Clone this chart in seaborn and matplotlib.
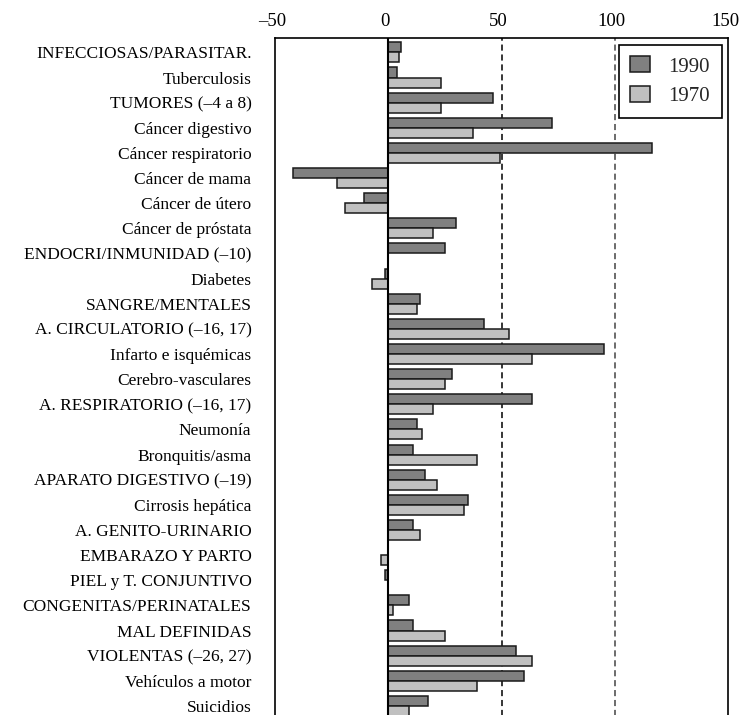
import matplotlib
matplotlib.use("Agg")
import matplotlib.pyplot as plt
import matplotlib.transforms as mtransforms
import seaborn as sns
import pandas as pd

categories = [
    "INFECCIOSAS/PARASITAR.", "Tuberculosis", "TUMORES (–4 a 8)", "Cáncer digestivo",
    "Cáncer respiratorio", "Cáncer de mama", "Cáncer de útero", "Cáncer de próstata",
    "ENDOCRI/INMUNIDAD (–10)", "Diabetes", "SANGRE/MENTALES", "A. CIRCULATORIO (–16, 17)",
    "Infarto e isquémicas", "Cerebro-vasculares", "A. RESPIRATORIO (–16, 17)", "Neumonía",
    "Bronquitis/asma", "APARATO DIGESTIVO (–19)", "Cirrosis hepática", "A. GENITO-URINARIO",
    "EMBARAZO Y PARTO", "PIEL y T. CONJUNTIVO", "CONGENITAS/PERINATALES", "MAL DEFINIDAS",
    "VIOLENTAS (–26, 27)", "Vehículos a motor", "Suicidios",
]
values_1990 = [5.5, 3.8, 46.1, 72.4, 116.4, -42.2, -10.5, 29.9, 24.9, -1.5, 14.2, 42.4,
               95.3, 28.3, 63.5, 12.5, 10.8, 16.1, 35.3, 10.8, 0.0, -1.5, 9.0, 10.8,
               56.5, 60.0, 17.7]
values_1970 = [4.7, 23.1, 23.1, 37.2, 49.4, -22.8, -19.2, 19.6, 0.0, -7.0, 12.5, 53.1,
               63.5, 24.9, 19.6, 15.0, 39.0, 21.4, 33.6, 14.2, -3.3, 0.0, 1.9, 24.9,
               63.5, 39.0, 9.0]
series = ["1990", "1970"]
x_ticks = [-50, 0, 50, 100, 150]
x_tick_labels = ["–50", "0", "50", "100", "150"]

df = pd.DataFrame({
    "cat": categories * 2,
    "val": values_1990 + values_1970,
    "serie": [series[0]] * len(categories) + [series[1]] * len(categories),
})

sns.set_theme(style="white")
plt.rcParams["font.family"] = ["Liberation Serif", "DejaVu Serif"]

fig = plt.figure(figsize=(7.43, 7.15), dpi=100)
ax = fig.add_axes([275 / 743, -0.0084, (728 - 275) / 743, 0.9552])

sns.barplot(data=df, y="cat", x="val", hue="serie", hue_order=series, order=categories,
            orient="h", palette=["#808080", "#c0c0c0"], width=0.8, dodge=True,
            edgecolor="#1a1a1a", linewidth=1.1, saturation=1, ax=ax, legend=True)

ax.set_xlim(-50, 150)
ax.set_ylim(26.6, -0.57)
ax.axvline(0, color="black", lw=1.5, zorder=3)
ax.axvline(50, color="black", lw=1.1, ls=(0, (4, 2.5)), zorder=0)
ax.axvline(100, color="#444444", lw=1.1, ls=(0, (4, 2.5)), zorder=0)

ax.xaxis.tick_top()
ax.set_xticks(x_ticks)
ax.set_xticklabels(x_tick_labels, fontsize=13.5)
ax.tick_params(axis="x", length=0, pad=6, colors="black")
ax.tick_params(axis="y", length=0, pad=17, labelsize=12.5, colors="black")
offset = mtransforms.ScaledTranslation(-3 / 100, 0, fig.dpi_scale_trans)
for lab in ax.get_xticklabels():
    lab.set_transform(lab.get_transform() + offset)
ax.set_xlabel("")
ax.set_ylabel("")
for s in ax.spines.values():
    s.set_color("black")
    s.set_linewidth(1.2)

leg = ax.legend(loc="upper right", bbox_to_anchor=(0.986, 0.9898), borderaxespad=0,
                fontsize=15, frameon=True, fancybox=False, framealpha=1,
                edgecolor="black", handlelength=0.95, handleheight=0.8,
                handletextpad=0.9, labelspacing=0.45, borderpad=0.55, title=None)
leg.get_frame().set_linewidth(1.2)

fig.savefig("out.png", dpi=100)
